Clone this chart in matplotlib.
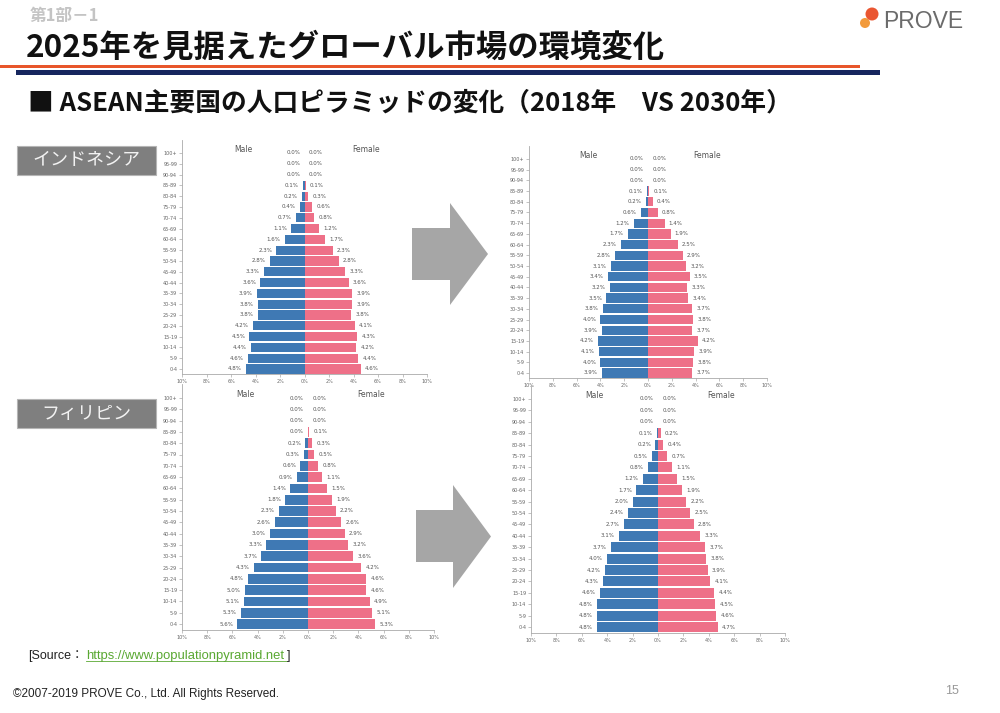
import numpy as np
import matplotlib.pyplot as plt
from matplotlib.patches import Rectangle, Polygon, Circle

plt.rcParams['font.family'] = ['Noto Sans CJK JP', 'DejaVu Sans']

# age groups, bottom (0-4) to top (100+)
ages = ['0-4', '5-9', '10-14', '15-19', '20-24', '25-29', '30-34', '35-39',
        '40-44', '45-49', '50-54', '55-59', '60-64', '65-69', '70-74',
        '75-79', '80-84', '85-89', '90-94', '95-99', '100+']

# Indonesia 2018 (%)
idn18_male = [4.8, 4.6, 4.4, 4.5, 4.2, 3.8, 3.8, 3.9, 3.6, 3.3, 2.8,
              2.3, 1.6, 1.1, 0.7, 0.4, 0.2, 0.1, 0.0, 0.0, 0.0]
idn18_female = [4.6, 4.4, 4.2, 4.3, 4.1, 3.8, 3.9, 3.9, 3.6, 3.3, 2.8,
                2.3, 1.7, 1.2, 0.8, 0.6, 0.3, 0.1, 0.0, 0.0, 0.0]
# Indonesia 2030 (%)
idn30_male = [3.9, 4.0, 4.1, 4.2, 3.9, 4.0, 3.8, 3.5, 3.2, 3.4, 3.1,
              2.8, 2.3, 1.7, 1.2, 0.6, 0.2, 0.1, 0.0, 0.0, 0.0]
idn30_female = [3.7, 3.8, 3.9, 4.2, 3.7, 3.8, 3.7, 3.4, 3.3, 3.5, 3.2,
                2.9, 2.5, 1.9, 1.4, 0.8, 0.4, 0.1, 0.0, 0.0, 0.0]
# Philippines 2018 (%)
phl18_male = [5.6, 5.3, 5.1, 5.0, 4.8, 4.3, 3.7, 3.3, 3.0, 2.6, 2.3,
              1.8, 1.4, 0.9, 0.6, 0.3, 0.2, 0.0, 0.0, 0.0, 0.0]
phl18_female = [5.3, 5.1, 4.9, 4.6, 4.6, 4.2, 3.6, 3.2, 2.9, 2.6, 2.2,
                1.9, 1.5, 1.1, 0.8, 0.5, 0.3, 0.1, 0.0, 0.0, 0.0]
# Philippines 2030 (%)
phl30_male = [4.8, 4.8, 4.8, 4.6, 4.3, 4.2, 4.0, 3.7, 3.1, 2.7, 2.4,
              2.0, 1.7, 1.2, 0.8, 0.5, 0.2, 0.1, 0.0, 0.0, 0.0]
phl30_female = [4.7, 4.6, 4.5, 4.4, 4.1, 3.9, 3.8, 3.7, 3.3, 2.8, 2.5,
                2.2, 1.9, 1.5, 1.1, 0.7, 0.4, 0.2, 0.0, 0.0, 0.0]

xticks = [-10, -8, -6, -4, -2, 0, 2, 4, 6, 8, 10]
xtick_labels = ['10%', '8%', '6%', '4%', '2%', '0%', '2%', '4%', '6%', '8%', '10%']

MALE_C = '#3f79b4'
FEMALE_C = '#ee7088'
W, H = 1000, 713
LAT = ['Liberation Sans', 'Noto Sans CJK JP']

fig = plt.figure(figsize=(10, 7.13), dpi=100)
fig.patch.set_facecolor('white')
bg = fig.add_axes([0, 0, 1, 1])
bg.set_xlim(0, W)
bg.set_ylim(H, 0)
bg.axis('off')


def pyramid(xl, xr, y0, y20, male, female):
    s = (y0 - y20) / 20.0
    top = y20 - 1.2 * s
    bot = y0 + 0.5 * s
    ax = fig.add_axes([xl / W, 1 - bot / H, (xr - xl) / W, (bot - top) / H])
    y = np.arange(len(ages))
    m = np.array(male)
    f = np.array(female)
    ax.barh(y, -m, height=0.86, color=MALE_C)
    ax.barh(y, f, height=0.86, color=FEMALE_C)
    for yi, mv, fv in zip(y, m, f):
        ax.text(-mv - 0.35, yi, f'{mv:.1f}%', ha='right', va='center',
                fontsize=4, color='#555555', family='DejaVu Sans')
        ax.text(fv + 0.35, yi, f'{fv:.1f}%', ha='left', va='center',
                fontsize=4, color='#555555', family='DejaVu Sans')
    ax.text(-5, 20.3, 'Male', ha='center', va='center', fontsize=5.5,
            color='#555555', family='DejaVu Sans')
    ax.text(5, 20.3, 'Female', ha='center', va='center', fontsize=5.5,
            color='#555555', family='DejaVu Sans')
    ax.set_xlim(-10, 10)
    ax.set_ylim(-0.5, 21.2)
    ax.set_yticks(y)
    ax.set_yticklabels(ages, fontsize=3.5, color='#666666', family='DejaVu Sans')
    ax.set_xticks(xticks)
    ax.set_xticklabels(xtick_labels, fontsize=3.5, color='#666666', family='DejaVu Sans')
    ax.tick_params(length=2, width=0.5, color='#aaaaaa', pad=1.5)
    for sp in ['top', 'right']:
        ax.spines[sp].set_visible(False)
    for sp in ['left', 'bottom']:
        ax.spines[sp].set_color('#aaaaaa')
        ax.spines[sp].set_linewidth(0.6)
    ax.patch.set_alpha(0)
    return ax


pyramid(182, 427, 369, 153, idn18_male, idn18_female)
pyramid(529, 767, 373, 159, idn30_male, idn30_female)
pyramid(182, 434, 624, 398, phl18_male, phl18_female)
pyramid(531, 785, 627, 399, phl30_male, phl30_female)

# header
bg.text(30, 16, '第1部－1', fontsize=12, color='#c4c4c4', va='center', weight='bold')
bg.text(26, 48, '2025年を見据えたグローバル市場の環境変化', fontsize=22.6,
        weight='bold', va='center', color='#111111')
bg.add_patch(Rectangle((0, 64.5), 860, 3.5, color='#e8562a', lw=0))
bg.add_patch(Rectangle((16, 70), 864, 5, color='#16265e', lw=0))
bg.text(28, 103, '■ ASEAN主要国の人口ピラミッドの変化（2018年　VS 2030年）',
        fontsize=18.5, weight='bold', va='center', color='#111111')

# logo
bg.add_patch(Circle((865, 23), 5, color='#f29a3b', lw=0))
bg.add_patch(Circle((872, 14), 6.5, color='#e94d26', lw=0, alpha=0.95))
bg.text(883, 21, 'PROVE', fontsize=16.5, color='#6b6b6b', va='center',
        family='Liberation Sans')

# country labels
for yb, name in [(146, 'インドネシア'), (399, 'フィリピン')]:
    bg.add_patch(Rectangle((17, yb), 139, 29, facecolor='#7f7f7f',
                           edgecolor='#b5b5b5', lw=0.8))
    bg.text(86, yb + 14.5, name, fontsize=13, color='#f2f2f2',
            ha='center', va='center')

# arrows


def block_arrow(x0, xs, xt, ys0, ys1, yh0, yh1):
    yc = (yh0 + yh1) / 2
    pts = [(x0, ys0), (xs, ys0), (xs, yh0), (xt, yc), (xs, yh1), (xs, ys1), (x0, ys1)]
    bg.add_patch(Polygon(pts, closed=True, color='#a6a6a6', lw=0))


block_arrow(412, 450, 488, 228, 280, 203, 305)
block_arrow(416, 453, 491, 510, 562, 485, 588)

# source
bg.text(28, 656, '[Source：', fontsize=9, va='center', color='#222222', family=LAT)
bg.text(86, 656, 'https://www.populationpyramid.net', fontsize=9.4, va='center',
        color='#5aa832', family=LAT)
bg.plot([86, 287], [661, 661], color='#5aa832', lw=0.6)
bg.text(287, 656, ']', fontsize=9, va='center', color='#222222', family=LAT)

# footer
bg.text(13, 694, '©2007-2019 PROVE Co., Ltd. All Rights Reserved.', fontsize=8.5,
        va='center', color='#222222', family=LAT)
bg.text(945, 691, '15', fontsize=9, va='center', color='#999999', family=LAT)

fig.savefig('out.png', dpi=100)
